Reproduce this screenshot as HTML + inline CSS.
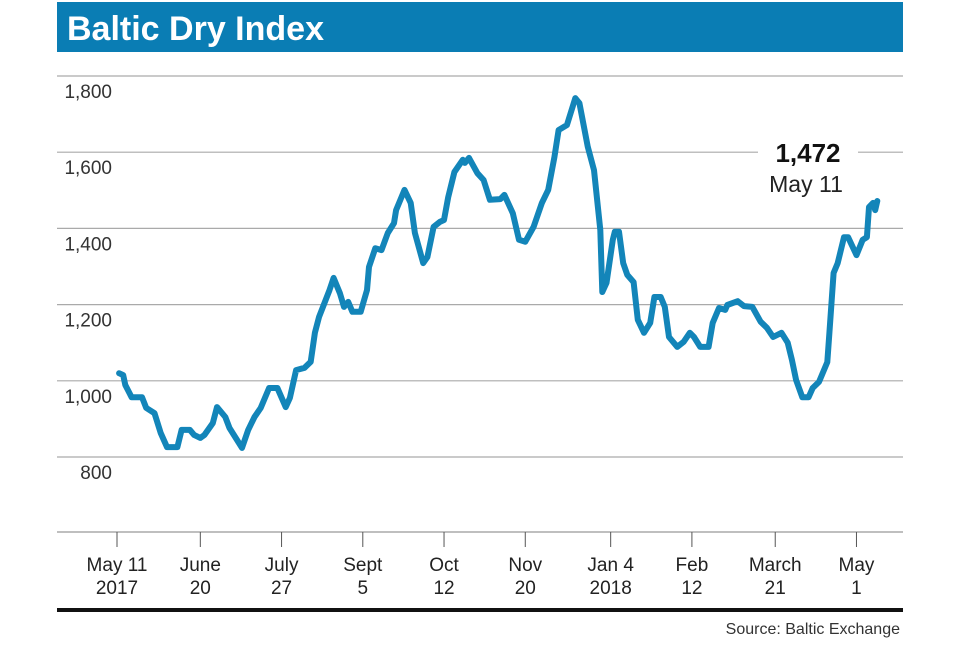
<!DOCTYPE html>
<html><head><meta charset="utf-8"><style>
body{margin:0;background:#fff;width:960px;height:640px;overflow:hidden;font-family:"Liberation Sans Narrow","Liberation Sans",sans-serif}
</style></head><body>
<svg width="960" height="640" viewBox="0 0 960 640">
<rect x="57" y="2" width="846" height="50" fill="#0a7db4"/>
<text x="67" y="40" fill="#fff" font-family="Liberation Sans, sans-serif" font-weight="bold" font-size="34">Baltic Dry Index</text>
<g id="grid"></g>
<g id="ylab"></g>
<line x1="57" y1="532" x2="903" y2="532" stroke="#999" stroke-width="1.2"/>
<g id="xax"></g>
<path id="series" fill="none" stroke="#1385b9" stroke-width="6" stroke-linejoin="round" stroke-linecap="round"/>
<rect x="758" y="138" width="100" height="32" fill="#fff"/>
<text id="annVal" x="808" y="162" text-anchor="middle" font-family="Liberation Sans, sans-serif" font-weight="bold" font-size="26" fill="#111">1,472</text>
<text x="806" y="192" text-anchor="middle" font-size="23" fill="#222">May 11</text>
<rect x="57" y="608" width="846" height="4" fill="#111"/>
<text x="900" y="634" text-anchor="end" font-size="16" fill="#333">Source: Baltic Exchange</text>
</svg>
<script>
const yTicks=[800,1000,1200,1400,1600,1800];
const yTickLabels=["800","1,000","1,200","1,400","1,600","1,800"];
const xTickDays=[0,40,79,118,157,196,237,276,316,355];
const xTickLine1=["May 11","June","July","Sept","Oct","Nov","Jan 4","Feb","March","May"];
const xTickLine2=["2017","20","27","5","12","20","2018","12","21","1"];
const days=[1,3,4,7,12,14,18,21,24,29,31,35,37,40,42,46,48,52,54,60,63,66,69,73,77,81,83,86,90,93,95,97,102,104,107,109,111,113,117,120,121,124,127,130,133,134,138,141,143,147,149,152,155,157,159,162,166,167,169,173,176,179,184,186,190,193,196,200,204,207,210,212,216,220,222,226,229,232,233,235,238,239,241,243,245,248,250,253,256,258,261,263,265,269,272,275,277,280,284,286,289,292,293,298,301,305,309,312,315,319,322,324,326,329,332,334,337,341,342,344,346,349,351,355,358,360,361,363,364,365];
const values=[1020,1015,989,957,957,929,915,863,826,826,871,871,858,850,858,889,931,905,876,824,871,905,929,981,981,931,955,1028,1034,1050,1126,1168,1238,1270,1230,1194,1207,1181,1181,1238,1299,1348,1343,1388,1414,1448,1501,1467,1388,1309,1325,1404,1417,1422,1482,1548,1580,1572,1585,1545,1527,1475,1477,1488,1440,1370,1365,1404,1467,1501,1587,1658,1671,1742,1729,1614,1553,1396,1233,1257,1370,1391,1391,1309,1278,1259,1160,1126,1152,1220,1220,1194,1115,1089,1102,1126,1115,1089,1089,1152,1191,1186,1199,1209,1196,1194,1155,1139,1115,1126,1100,1055,1002,957,957,981,997,1049,1126,1283,1309,1377,1377,1330,1370,1377,1456,1467,1448,1472];
const NS="http://www.w3.org/2000/svg";
function X(d){return 117+d*2.083;}
function Y(v){return 457-(v-800)*0.381;}
const grid=document.getElementById('grid'),ylab=document.getElementById('ylab'),xax=document.getElementById('xax');
yTicks.forEach((t,i)=>{
 const l=document.createElementNS(NS,'line');
 
 
 l.setAttribute('x1',57);l.setAttribute('x2',903);l.setAttribute('y1',Y(t));l.setAttribute('y2',Y(t));
 l.setAttribute('stroke','#aaa');l.setAttribute('stroke-width','1.2');grid.appendChild(l);
 const tx=document.createElementNS(NS,'text');
 
 
 tx.setAttribute('x',112);tx.setAttribute('y',Y(t)+22);tx.setAttribute('text-anchor','end');
 tx.setAttribute('font-size','19');tx.setAttribute('fill','#333');tx.textContent=yTickLabels[i];ylab.appendChild(tx);
});
xTickDays.forEach((d,i)=>{
 const l=document.createElementNS(NS,'line');
 
 
 l.setAttribute('x1',X(d));l.setAttribute('x2',X(d));l.setAttribute('y1',532);l.setAttribute('y2',547);
 l.setAttribute('stroke','#555');l.setAttribute('stroke-width','1');xax.appendChild(l);
 [xTickLine1[i],xTickLine2[i]].forEach((s,j)=>{
  const tx=document.createElementNS(NS,'text');
  
  
  tx.setAttribute('x',X(d));tx.setAttribute('y',571+j*23);tx.setAttribute('text-anchor','middle');
  tx.setAttribute('font-size','19');tx.setAttribute('fill','#222');tx.textContent=s;xax.appendChild(tx);
 });
});
document.getElementById('series').setAttribute('d',days.map((d,i)=>(i?'L':'M')+X(d).toFixed(1)+' '+Y(values[i]).toFixed(1)).join(' '));
document.getElementById('annVal').textContent=values[values.length-1].toLocaleString('en-US');
</script>
</body></html>
